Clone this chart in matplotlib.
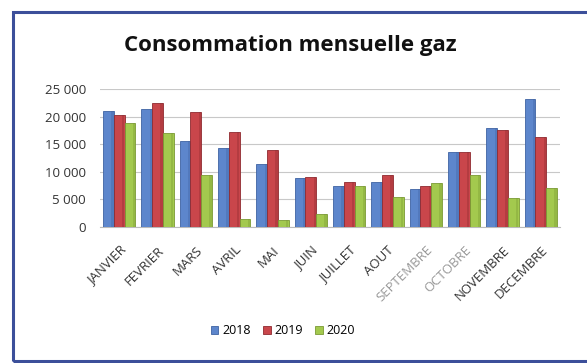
import matplotlib
matplotlib.use("Agg")
import matplotlib.pyplot as plt
import numpy as np
from matplotlib.patches import Rectangle
from matplotlib.ticker import FuncFormatter

months = ["JANVIER", "FEVRIER", "MARS", "AVRIL", "MAI", "JUIN", "JUILLET",
          "AOUT", "SEPTEMBRE", "OCTOBRE", "NOVEMBRE", "DECEMBRE"]
years = ["2018", "2019", "2020"]
v2018 = [21000, 21400, 15600, 14300, 11400, 8800, 7400, 8100, 6800, 13500, 18000, 23200]
v2019 = [20200, 22500, 20900, 17200, 14000, 9000, 8100, 9500, 7500, 13500, 17600, 16300]
v2020 = [18900, 17000, 9400, 1500, 1200, 2300, 7500, 5500, 8000, 9500, 5200, 7000]
series = [v2018, v2019, v2020]
colors = ["#5d86cc", "#c9464b", "#a3c94e"]
side_colors = ["#3f63a3", "#8f2a30", "#7a9a34"]
yticks = [0, 5000, 10000, 15000, 20000, 25000]

plt.rcParams['font.family'] = ['Open Sans', 'DejaVu Sans']
fig = plt.figure(figsize=(5.87, 3.63), dpi=100)
fig.patch.set_facecolor("white")

# outer frame
fig.add_artist(Rectangle((13/587, 1-361/363), 1.2, (361-12)/363, transform=fig.transFigure,
                         fill=False, edgecolor="#3c4f9a", linewidth=2.2))

ax = fig.add_axes([100/587, 1-227/363, 460/587, (227-89)/363])
x = np.arange(len(months))
w = 0.28
for i, (vals, c, sc) in enumerate(zip(series, colors, side_colors)):
    pos = x + (i - 1) * w
    ax.bar(pos, vals, width=w, color=c, edgecolor=sc, linewidth=0.6, label=years[i], zorder=3)
    ax.bar(pos + w * 0.38, vals, width=w * 0.22, color=sc, alpha=0.35, linewidth=0, zorder=4)

ax.set_xlim(-0.5, len(months) - 0.5)
ax.set_ylim(0, 25000)
ax.set_yticks(yticks)
ax.yaxis.set_major_formatter(FuncFormatter(lambda v, p: f"{int(v):,}".replace(",", " ")))
ax.grid(axis="y", color="#c8c8c8", linewidth=0.8, zorder=0)
for s in ["top", "right", "left"]:
    ax.spines[s].set_visible(False)
ax.spines["bottom"].set_color("#bbbbbb")
ax.tick_params(axis="both", length=0, colors="#333333")
ax.tick_params(axis="y", pad=10, labelsize=9.5)
ax.tick_params(axis="x", pad=12)
ax.set_xticks(x)
ax.set_xticklabels(months, rotation=45, ha="right", rotation_mode="anchor", fontsize=9.5)
for lbl in ax.get_xticklabels():
    if lbl.get_text() in ("SEPTEMBRE", "OCTOBRE"):
        lbl.set_color("#999999")

fig.text(290/587, 1-45/363, "Consommation mensuelle gaz", ha="center", va="center",
         fontsize=16, fontweight="bold", color="#111111")

handles, labels = ax.get_legend_handles_labels()
fig.legend(handles, labels, loc="center", bbox_to_anchor=(283/587, 1-331/363), ncol=3,
           frameon=False, fontsize=9, handlelength=0.6, handleheight=0.6,
           handletextpad=0.3, columnspacing=1.0)

fig.savefig("out.png", dpi=100)
